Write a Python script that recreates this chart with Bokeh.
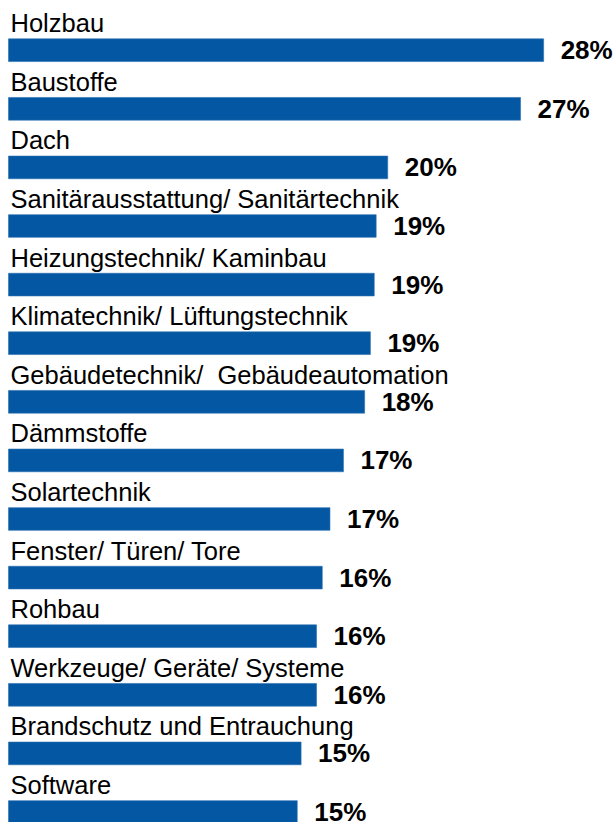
from bokeh.plotting import figure
from bokeh.models import ColumnDataSource, Range1d
from bokeh.core.properties import value
from bokeh.embed import file_html
from bokeh.resources import INLINE

categories = [
    "Holzbau",
    "Baustoffe",
    "Dach",
    "Sanitärausstattung/ Sanitärtechnik",
    "Heizungstechnik/ Kaminbau",
    "Klimatechnik/ Lüftungstechnik",
    "Gebäudetechnik/\u00a0 Gebäudeautomation",
    "Dämmstoffe",
    "Solartechnik",
    "Fenster/ Türen/ Tore",
    "Rohbau",
    "Werkzeuge/ Geräte/ Systeme",
    "Brandschutz und Entrauchung",
    "Software",
]
values = [27.8, 26.6, 19.7, 19.1, 19.0, 18.8, 18.5, 17.4, 16.7, 16.3, 16.0, 16.0, 15.2, 15.0]
value_labels = [f"{round(v)}%" for v in values]

W, H = 613, 822
px_per_unit = 19.25
left_px = 8
top_center_px = 49.7
row_px = 58.6

idx = list(range(len(categories)))
src = ColumnDataSource(dict(y=idx, v=values, cat=categories, lab=value_labels,
                            zero=[0] * len(idx)))

p = figure(width=W, height=H, output_backend="svg", toolbar_location=None,
           x_range=Range1d(-left_px / px_per_unit, (W - left_px) / px_per_unit),
           y_range=Range1d((H - top_center_px) / row_px, -top_center_px / row_px),
           min_border=0, min_border_left=0, min_border_right=0,
           min_border_top=0, min_border_bottom=0)
p.outline_line_color = None
p.axis.visible = False
p.grid.visible = False
p.background_fill_color = "white"
p.border_fill_color = "white"

p.hbar(y="y", left=0, right="v", height=22.7 / row_px, source=src,
       fill_color="#0458A3", line_color="#2a6fb0", line_width=0.6)

p.text(x="zero", y="y", text="cat", source=src, x_offset=2, y_offset=-27,
       text_font=value("Liberation Sans"), text_font_size="25.5px",
       text_color="#000000", text_baseline="alphabetic", text_align="left")

p.text(x="v", y="y", text="lab", source=src, x_offset=17, y_offset=0,
       text_font=value("Liberation Sans"), text_font_size="26px",
       text_font_style="bold", text_color="#000000",
       text_baseline="alphabetic", text_align="left")

open("out.html", "w").write(file_html(p, INLINE))
